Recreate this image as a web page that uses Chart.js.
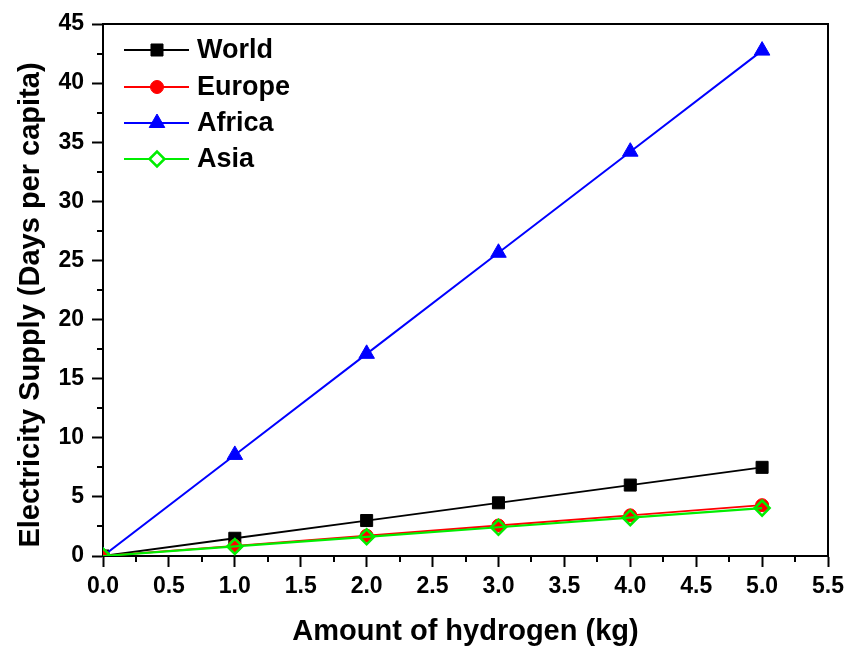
<!DOCTYPE html>
<html><head><meta charset="utf-8">
<script src="https://cdn.jsdelivr.net/npm/chart.js@4.4.1/dist/chart.umd.min.js"></script>
<style>html,body{margin:0;padding:0;background:#fff;}canvas{display:block;}</style>
</head><body>
<canvas id="c" width="846" height="648"></canvas>
<script>
// ---- data ----
const hydrogenKg = [0, 1, 2, 3, 4, 5];
const worldDays  = [0, 1.5, 3.0, 4.5, 6.0, 7.5];
const europeDays = [0, 0.86, 1.72, 2.58, 3.44, 4.3];
const africaDays = [0, 8.55, 17.1, 25.65, 34.2, 42.75];
const asiaDays   = [0, 0.81, 1.62, 2.43, 3.24, 4.05];
const seriesNames = ['World', 'Europe', 'Africa', 'Asia'];
const xTickValues = [0, 0.5, 1, 1.5, 2, 2.5, 3, 3.5, 4, 4.5, 5, 5.5];
const yTickValues = [0, 5, 10, 15, 20, 25, 30, 35, 40, 45];
const xTitle = 'Amount of hydrogen (kg)';
const yTitle = 'Electricity Supply (Days per capita)';

const FONT = '"Liberation Sans", Arial, Helvetica, sans-serif';
const pts = ys => hydrogenKg.map((x, i) => ({x: x, y: ys[i]}));

const styles = [
  {color: '#000000', style: 'rect', radius: 8.5, fill: '#000000', bw: 1, lw: 1.8, order: 3},
  {color: '#ff0000', style: 'circle', radius: 6.5, fill: '#ff0000', bw: 1, lw: 1.8, order: 1},
  {color: '#0000ff', style: 'triangle', radius: 9, fill: '#0000ff', bw: 1, lw: 2, order: 2},
  {color: '#00ee00', style: 'rectRot', radius: 7.5, fill: 'rgba(0,0,0,0)', bw: 2.5, lw: 2.2, order: 0}
];
const seriesData = [worldDays, europeDays, africaDays, asiaDays];

const datasets = seriesNames.map((name, i) => ({
  label: name,
  data: pts(seriesData[i]),
  showLine: true,
  borderColor: styles[i].color,
  backgroundColor: styles[i].fill,
  borderWidth: styles[i].lw,
  pointStyle: styles[i].style,
  pointRadius: styles[i].radius,
  pointHoverRadius: styles[i].radius,
  pointBorderWidth: styles[i].bw,
  pointBorderColor: styles[i].color,
  pointBackgroundColor: styles[i].fill,
  order: styles[i].order,
  tension: 0
}));

const framePlugin = {
  id: 'frame',
  afterDraw(chart) {
    const {ctx, chartArea: a, scales} = chart;
    ctx.save();
    ctx.strokeStyle = '#000';
    ctx.lineWidth = 2;
    ctx.beginPath();
    ctx.moveTo(a.left, a.top); ctx.lineTo(a.right, a.top); ctx.lineTo(a.right, a.bottom);
    ctx.stroke();
    // minor ticks
    ctx.beginPath();
    for (let i = 0; i < xTickValues.length - 1; i++) {
      const v = (xTickValues[i] + xTickValues[i + 1]) / 2;
      const px = Math.round(scales.x.getPixelForValue(v));
      ctx.moveTo(px, a.bottom); ctx.lineTo(px, a.bottom + 6);
    }
    for (let i = 0; i < yTickValues.length - 1; i++) {
      const v = (yTickValues[i] + yTickValues[i + 1]) / 2;
      const py = Math.round(scales.y.getPixelForValue(v));
      ctx.moveTo(a.left, py); ctx.lineTo(a.left - 6, py);
    }
    ctx.stroke();
    // y axis title
    ctx.save();
    ctx.translate(31, 305);
    ctx.rotate(-Math.PI / 2);
    ctx.fillStyle = '#000';
    ctx.font = 'bold 29px ' + FONT;
    ctx.textAlign = 'center';
    ctx.textBaseline = 'middle';
    ctx.fillText(yTitle, 0, 0);
    ctx.restore();
    // legend
    const x0 = 124, x1 = 189, mx = 157, tx = 197;
    const rows = [50, 87, 123, 159];
    seriesNames.forEach((name, i) => {
      const s = styles[i];
      const y = rows[i];
      ctx.strokeStyle = s.color;
      ctx.lineWidth = s.lw;
      ctx.beginPath(); ctx.moveTo(x0, y); ctx.lineTo(x1, y); ctx.stroke();
      ctx.fillStyle = s.fill === 'rgba(0,0,0,0)' ? '#ffffff' : s.fill;
      ctx.strokeStyle = s.color;
      ctx.lineWidth = s.bw;
      Chart.helpers.drawPoint(ctx, {pointStyle: s.style, radius: s.radius, rotation: 0, borderWidth: s.bw}, mx, y);
      ctx.fillStyle = '#000';
      ctx.font = 'bold 27px ' + FONT;
      ctx.textBaseline = 'middle';
      ctx.textAlign = 'left';
      ctx.fillText(name, tx, y + 1);
    });
    ctx.restore();
  }
};

new Chart(document.getElementById('c'), {
  type: 'scatter',
  data: {datasets},
  plugins: [framePlugin],
  options: {
    responsive: false,
    animation: false,
    devicePixelRatio: 1,
    layout: {padding: {top: 24, right: 18, left: 0, bottom: 0}},
    plugins: {legend: {display: false}, tooltip: {enabled: false}},
    scales: {
      x: {
        type: 'linear', min: 0, max: 5.5,
        afterBuildTicks: s => { s.ticks = xTickValues.map(v => ({value: v})); },
        afterFit: s => { s.height = 92; s.paddingRight = 0; s.paddingLeft = 0; },
        grid: {display: true, drawOnChartArea: false, drawTicks: true, tickLength: 11, tickWidth: 2, tickColor: '#000', color: '#000'},
        border: {display: true, color: '#000', width: 2},
        ticks: {
          color: '#000', padding: 6, maxRotation: 0, autoSkip: false,
          font: {family: FONT, size: 23, weight: 'bold'},
          callback: v => Number(v).toFixed(1)
        },
        title: {display: true, text: xTitle, color: '#000', padding: {top: 0, bottom: 2},
          font: {family: FONT, size: 29, weight: 'bold', lineHeight: 1}}
      },
      y: {
        type: 'linear', min: 0, max: 45,
        afterBuildTicks: s => { s.ticks = yTickValues.map(v => ({value: v})); },
        afterFit: s => { s.width = 103; s.paddingTop = 0; s.paddingBottom = 0; },
        grid: {display: true, drawOnChartArea: false, drawTicks: true, tickLength: 11, tickWidth: 2, tickColor: '#000', color: '#000'},
        border: {display: true, color: '#000', width: 2},
        ticks: {
          color: '#000', padding: 8, autoSkip: false,
          font: {family: FONT, size: 23, weight: 'bold'},
          callback: v => String(v)
        },
        title: {display: false}
      }
    }
  }
});
</script>
</body></html>
